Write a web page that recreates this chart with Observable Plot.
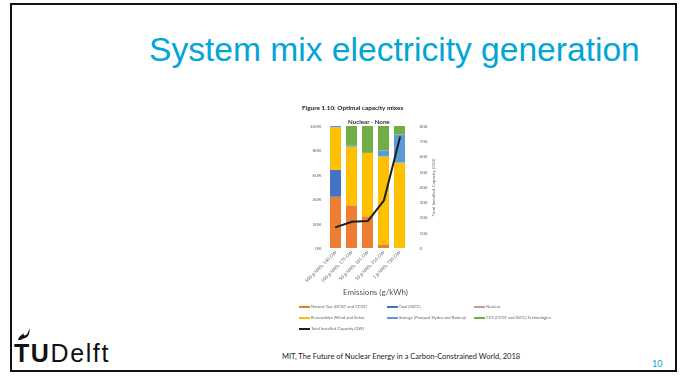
<!DOCTYPE html>
<html>
<head>
<meta charset="utf-8">
<script src="https://cdn.jsdelivr.net/npm/d3@7"></script>
<script src="https://cdn.jsdelivr.net/npm/@observablehq/plot@0.6"></script>
<style>
  html, body { margin: 0; padding: 0; background: #fff; }
  #slide { position: relative; width: 685px; height: 378px; overflow: hidden; background: #fff; font-family: "Liberation Sans", Arial, sans-serif; }
  #frame { position: absolute; left: 10px; top: 3px; width: 667px; height: 369px; border: 2.5px solid #111; box-sizing: border-box; }
  #title { position: absolute; left: 149px; top: 32.6px; font-size: 33.6px; line-height: 1; color: #00a6d6; white-space: nowrap; }
  #figure { position: absolute; left: 0; top: 0; width: 685px; height: 378px; filter: blur(0.45px); font-family: Lato, "Open Sans", sans-serif; }
  #figtitle { position: absolute; left: 302px; top: 104px; font-size: 6.4px; font-weight: bold; color: #222; white-space: nowrap; }
  #subtitle { position: absolute; left: 348px; top: 118px; font-size: 6.2px; font-weight: bold; color: #333; white-space: nowrap; }
  #chart { position: absolute; left: 288.5px; top: 112px; }
  #xlabel { position: absolute; left: 343px; top: 287px; font-size: 8px; color: #555; white-space: nowrap; }
  #legend { position: absolute; left: 0; top: 0; }
  .item { position: absolute; font-size: 4.2px; color: #666; white-space: nowrap; line-height: 4px; }
  .sw { display: inline-block; width: 11px; height: 2.6px; vertical-align: middle; margin-right: 1px; }
  #logo { position: absolute; left: 14px; top: 341px; font-family: "Liberation Sans", Arial, sans-serif; font-size: 25px; letter-spacing: 1.6px; line-height: 1; color: #111; white-space: nowrap; }
  #flame { position: absolute; left: 15px; top: 326px; }
  #cite { position: absolute; left: 282px; top: 352px; font-family: Lato, "Open Sans", sans-serif; font-size: 7.5px; color: #222; white-space: nowrap; }
  #page { position: absolute; left: 652px; top: 358px; font-family: Lato, sans-serif; font-size: 9px; color: #00a6d6; }
</style>
</head>
<body>
<div id="slide">
  <div id="frame"></div>
  <div id="title">System mix electricity generation</div>
  <div id="figure">
    <div id="figtitle">Figure 1.10: Optimal capacity mixes</div>
    <div id="subtitle">Nuclear - None</div>
    <div id="chart"></div>
    <div id="xlabel">Emissions (g/kWh)</div>
    <div id="legend"></div>
  </div>
  <svg id="flame" width="16" height="16" viewBox="0 0 16 16">
    <path d="M3 14 C4 10 7 9 9 7 C8 9 9 10 11 9 C13 8 13 5 15 2 C14 6 15 8 12 11 C10 13 7 12 6 14 Z" fill="#111"/>
  </svg>
  <div id="logo"><b>TU</b>Delft</div>
  <div id="cite">MIT, The Future of Nuclear Energy in a Carbon-Constrained World, 2018</div>
  <div id="page">10</div>
</div>
<script>
// Emission targets (g/kWh) and the resulting total installed capacity (GW)
const emissions = [500, 100, 50, 10, 1];
const capacityGW = [140, 175, 181, 316, 730];

// Capacity share of each technology per scenario (%)
const naturalGas = [42, 35, 26, 3, 0];
const coal = [22, 0, 0, 0, 0];
const nuclear = [0, 0, 0, 0, 0];
const renewables = [35, 48, 52, 72, 70];
const storage = [1, 1, 0, 5, 23];
const ccs = [0, 16, 22, 20, 7];

const technologies = [
  "Natural Gas (OCGT and CCGT)",
  "Coal (SSCC)",
  "Nuclear",
  "Renewables (Wind and Solar)",
  "Storage (Pumped Hydro and Battery)",
  "CCS (CCGT and IGCC) Technologies"
];
const techColors = ["#ed7d31", "#4472c4", "#a5a5a5", "#ffc000", "#5b9bd5", "#70ad47"];
const lineLabel = "Total Installed Capacity (GW)";
const lineColor = "#1f1f1f";
const capacityTicks = [0, 100, 200, 300, 400, 500, 600, 700, 800];
const capacityMax = 800;
const shareTicks = [0, 20, 40, 60, 80, 100];

const scenarios = emissions.map((e, i) => `${e} g/kWh, ${capacityGW[i]} GW`);
const shares = [naturalGas, coal, nuclear, renewables, storage, ccs];

const bars = [];
scenarios.forEach((s, i) => {
  technologies.forEach((t, j) => bars.push({scenario: s, tech: t, share: shares[j][i]}));
});
const totals = scenarios.map((s, i) => ({scenario: s, gw: capacityGW[i]}));

const chart = Plot.plot({
  width: 160,
  height: 190,
  marginLeft: 36,
  marginRight: 39,
  marginTop: 14,
  marginBottom: 54,
  style: {fontFamily: "Lato, 'Open Sans', sans-serif", fontSize: "4.6px", color: "#666", background: "transparent"},
  x: {domain: scenarios, padding: 0.31, paddingOuter: 0.2},
  y: {domain: [0, 100]},
  color: {domain: technologies, range: techColors},
  marks: [
    Plot.barY(bars, {x: "scenario", y: "share", fill: "tech", order: technologies}),
    Plot.line(totals, {x: "scenario", y: d => d.gw / capacityMax * 100, stroke: lineColor, strokeWidth: 2}),
    Plot.axisY(shareTicks, {anchor: "left", tickSize: 0, tickPadding: 4, tickFormat: d => d + "%", label: null}),
    Plot.axisY(capacityTicks.map(v => v / capacityMax * 100), {
      anchor: "right", tickSize: 0, tickPadding: 9,
      tickFormat: d => Math.round(d * capacityMax / 100),
      label: lineLabel, labelAnchor: "center", labelArrow: "none", labelOffset: 24
    }),
    Plot.axisX({tickRotate: -45, tickSize: 0, tickPadding: 3, label: null})
  ]
});
document.getElementById("chart").append(chart);

// Legend: three columns, rows filled left to right
const legendItems = technologies.map((t, i) => ({label: t, color: techColors[i]}))
  .concat([{label: lineLabel, color: lineColor}]);
const colX = [299, 387, 474];
const rowY = [305, 316, 327];
const legend = document.getElementById("legend");
legendItems.forEach((item, i) => {
  const el = document.createElement("div");
  el.className = "item";
  el.style.left = colX[i % 3] + "px";
  el.style.top = rowY[Math.floor(i / 3)] + "px";
  const sw = document.createElement("span");
  sw.className = "sw";
  sw.style.background = item.color;
  el.append(sw, document.createTextNode(item.label));
  legend.append(el);
});
</script>
</body>
</html>
